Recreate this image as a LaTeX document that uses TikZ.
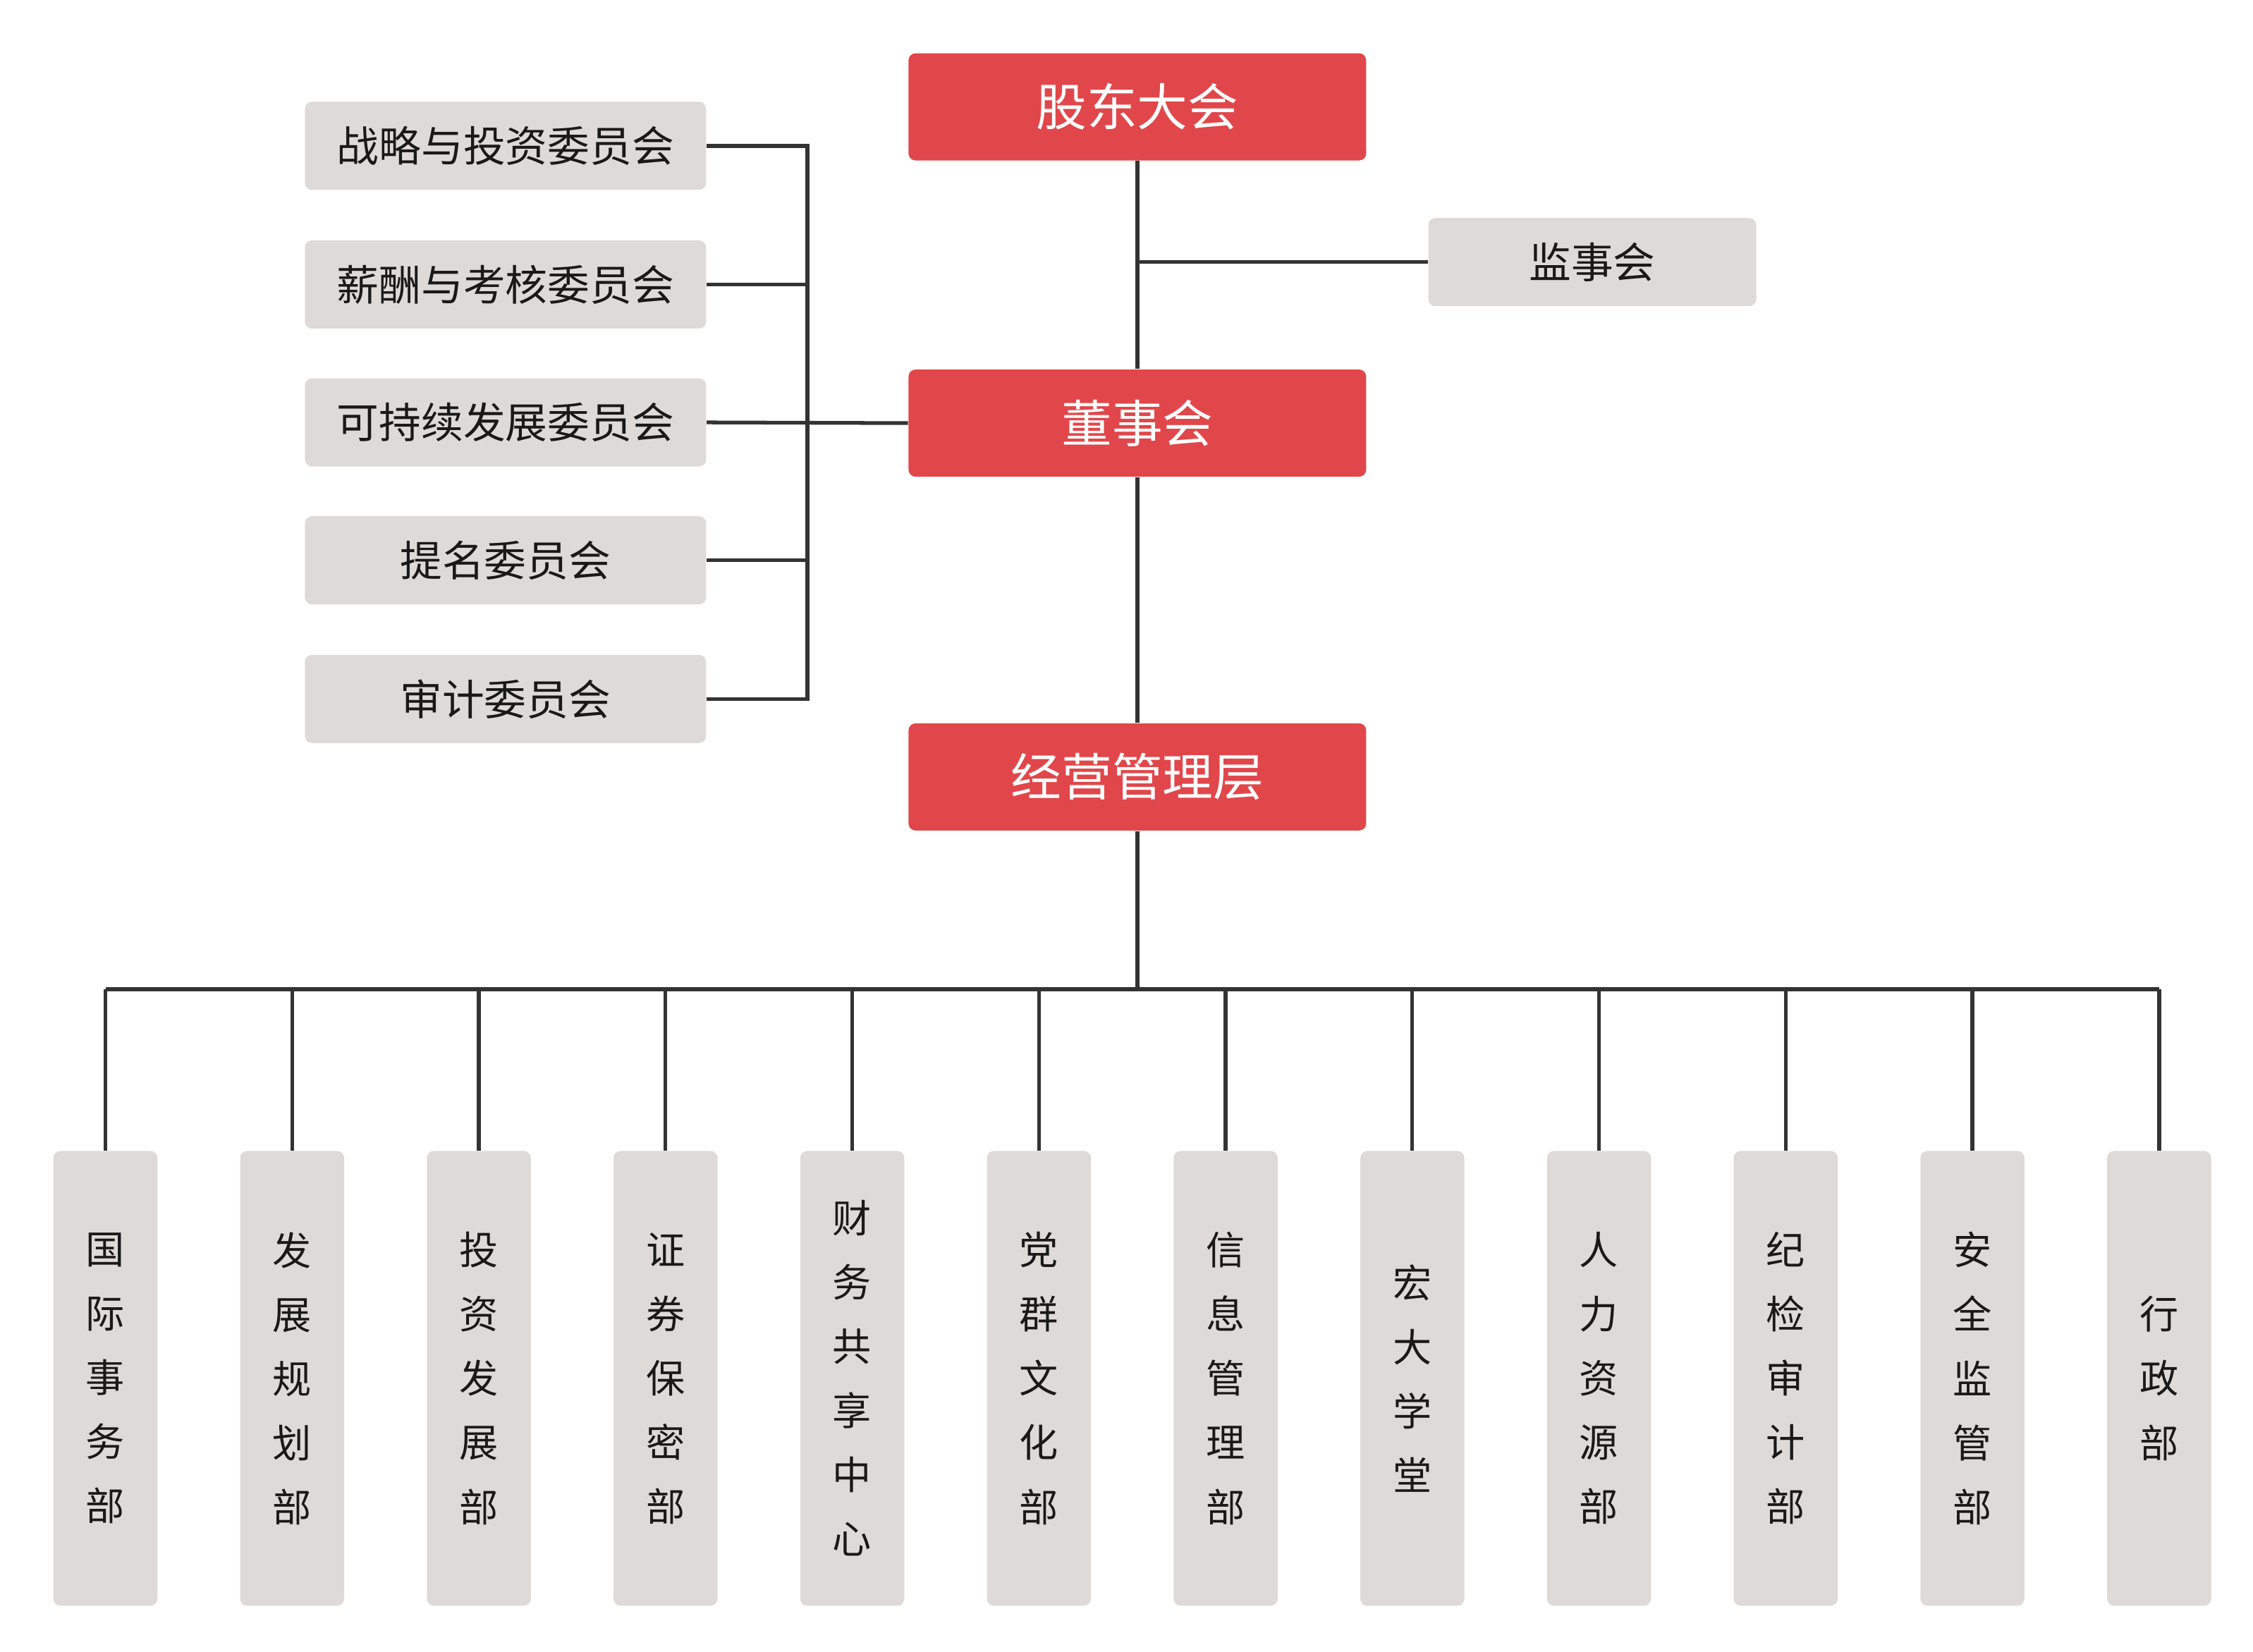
\documentclass[tikz,border=0pt]{standalone}
\usepackage{fontspec}
\newfontfamily\cjk{Noto Sans CJK SC}
\definecolor{boardred}{HTML}{E1474A}
\definecolor{boxgray}{HTML}{DEDAD8}
\definecolor{linegray}{HTML}{333333}

\begin{document}
\begin{tikzpicture}[x=0.2048mm, y=-0.2048mm]
  \tikzstyle{redbox} = [fill=boardred, rounded corners=1mm, minimum width=64.9mm, minimum height=15.2mm, inner sep=0pt, text=white, font=\cjk\fontsize{20.4}{24}\selectfont]
  \tikzstyle{committee} = [fill=boxgray, rounded corners=1mm, minimum width=56.9mm, minimum height=12.5mm, inner sep=0pt, text=black!90, font=\cjk\fontsize{17}{20}\selectfont]
  \tikzstyle{dept} = [fill=boxgray, rounded corners=1mm, minimum width=14.75mm, minimum height=64.5mm, inner sep=0pt, align=center, text=black!90, font=\cjk\fontsize{15.7}{25.9}\selectfont]
  \tikzstyle{link} = [draw=linegray, line width=1.5pt]

  \useasboundingbox (0,0) rectangle (1560,1143.6);

  % main line
  \node[redbox] (gudong) at (787.5, 74) {股东大会};
  \node[redbox] (dongshi) at (787.5, 293) {董事会};
  \node[redbox] (jingying) at (787.5, 538) {经营管理层};
  \node[committee, minimum width=46.5mm] (jianshi) at (1102.5, 181.5) {监事会};

  % committees
  \node[committee] (zhanlue) at (350, 101) {战略与投资委员会};
  \node[committee] (xinchou) at (350, 197) {薪酬与考核委员会};
  \node[committee] (kechixu) at (350, 292.5) {可持续发展委员会};
  \node[committee] (timing) at (350, 388) {提名委员会};
  \node[committee] (shenji) at (350, 484) {审计委员会};
  \coordinate (brk) at (559, 0);
  \coordinate (bus) at (0, 685);

  % departments
  \foreach \name [count=\i] in {国\\际\\事\\务\\部, 发\\展\\规\\划\\部, 投\\资\\发\\展\\部, 证\\券\\保\\密\\部, 财\\务\\共\\享\\中\\心, 党\\群\\文\\化\\部, 信\\息\\管\\理\\部, 宏\\大\\学\\堂, 人\\力\\资\\源\\部, 纪\\检\\审\\计\\部, 安\\全\\监\\管\\部, 行\\政\\部}
    \node[dept] (dept\i) at ({73 + (\i-1)*129.27}, 954.5) {\name};

  % connectors
  \draw[link] (gudong.south) -- (dongshi.north);
  \draw[link] (jianshi.west) -- (jianshi.west -| gudong.south);
  \draw[link] (dongshi.south) -- (jingying.north);
  \draw[link] (zhanlue.east) -- (zhanlue.east -| brk) -- (shenji.east -| brk) -- (shenji.east);
  \draw[link] (xinchou.east) -- (xinchou.east -| brk);
  \draw[link] (timing.east) -- (timing.east -| brk);
  \draw[link] (kechixu.east) -- (dongshi.west);
  \draw[link] (jingying.south) -- (jingying.south |- bus);
  \draw[link] (dept1.north |- bus) -- (dept12.north |- bus);
  \foreach \i in {1,...,12}
    \draw[link] (dept\i.north) -- (dept\i.north |- bus);
\end{tikzpicture}
\end{document}
